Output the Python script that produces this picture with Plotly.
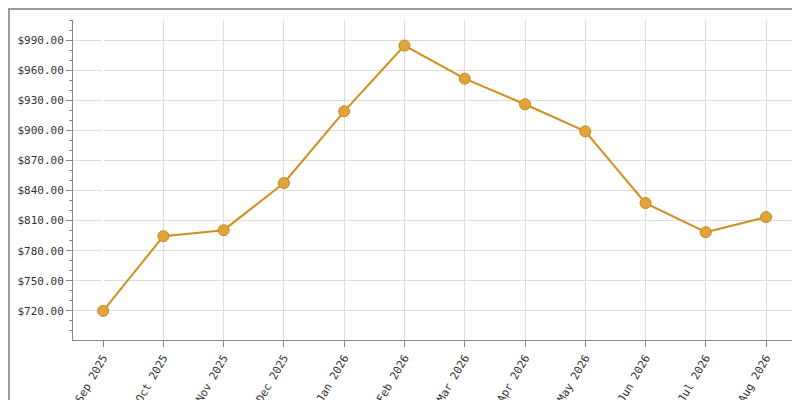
import plotly.graph_objects as go

months = ["Sep 2025", "Oct 2025", "Nov 2025", "Dec 2025", "Jan 2026", "Feb 2026",
          "Mar 2026", "Apr 2026", "May 2026", "Jun 2026", "Jul 2026", "Aug 2026"]
prices = [720, 794.5, 800.5, 847.5, 919, 984.5, 951.5, 926, 899, 827.5, 798.5, 813.5]

fig = go.Figure()
fig.add_trace(go.Scatter(
    x=list(range(len(months))), y=prices, mode="lines+markers",
    line=dict(color="#d08f1e", width=2),
    marker=dict(size=11, color="#e0a43a", line=dict(color="#c08a20", width=1)),
))

# plot area 725 x 320 px; border drawn around the whole page
fig.update_layout(
    width=800, height=400,
    margin=dict(l=65, r=10, t=12, b=68),
    plot_bgcolor="white", paper_bgcolor="white",
    showlegend=False,
    font=dict(family="DejaVu Sans Mono", size=11, color="#333"),
    shapes=[dict(type="rect", xref="paper", yref="paper",
                 x0=-64 / 725, x1=1 + 9 / 725, y0=-67 / 320, y1=1 + 11 / 320,
                 line=dict(color="#999", width=2))],
)
fig.update_xaxes(
    range=[-0.5, 11.53], tickvals=list(range(len(months))), ticktext=months,
    tickangle=-60, showgrid=True, gridcolor="#ddd", automargin=False,
    showline=True, linecolor="#888", ticks="outside", tickcolor="#888", ticklen=6,
)
fig.update_yaxes(
    range=[691, 1010], dtick=30, tick0=720, tickprefix="$", tickformat=",.2f",
    showgrid=True, gridcolor="#ddd", automargin=False,
    showline=True, linecolor="#888", ticks="outside", tickcolor="#888", ticklen=6,
    minor=dict(dtick=10, ticks="outside", ticklen=3, tickcolor="#888", showgrid=False),
)
fig.write_html("out.html")
